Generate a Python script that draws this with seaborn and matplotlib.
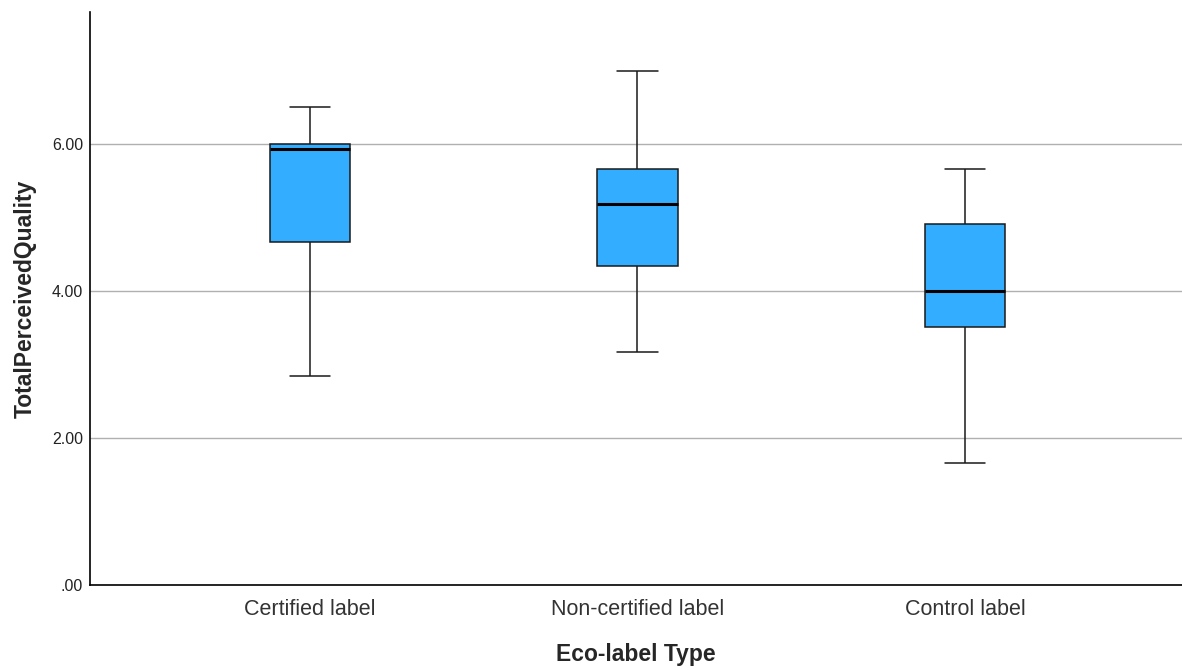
import matplotlib
matplotlib.use("Agg")
import matplotlib.pyplot as plt
import seaborn as sns
import pandas as pd
from matplotlib.ticker import FuncFormatter

categories = ["Certified label", "Non-certified label", "Control label"]
# five-number summaries: min, Q1, median, Q3, max
mins = [2.84, 3.17, 1.66]
q1s = [4.67, 4.34, 3.51]
medians = [5.93, 5.18, 4.00]
q3s = [6.00, 5.66, 4.91]
maxs = [6.50, 7.00, 5.66]

rows = []
for c, a, b, m, d, e in zip(categories, mins, q1s, medians, q3s, maxs):
    for v in (a, b, m, d, e):
        rows.append({"Eco-label Type": c, "TotalPerceivedQuality": v})
df = pd.DataFrame(rows)

sns.set_style("white")
plt.rcParams["font.family"] = ["Liberation Sans", "DejaVu Sans"]

fig = plt.figure(figsize=(11.82, 6.70), dpi=100)
ax = fig.add_axes([90 / 1182, 1 - 585 / 670, 1 - 90 / 1182, (585 - 12) / 670])

sns.boxplot(data=df, x="Eco-label Type", y="TotalPerceivedQuality", ax=ax,
            order=categories, whis=(0, 100), width=0.245, color="#33ADFF",
            saturation=1, linewidth=1.1, linecolor="#1a1a1a",
            medianprops={"color": "black", "linewidth": 2.2},
            showfliers=False, zorder=3)

ax.set_ylim(0, 7.8)
ax.set_xlim(-0.672, 2.663)
ax.set_yticks([0, 2, 4, 6])
ax.yaxis.set_major_formatter(FuncFormatter(lambda v, p: ".00" if v == 0 else f"{v:.2f}"))
ax.grid(axis="y", color="#b0b0b0", linewidth=1, zorder=0)
ax.set_axisbelow(True)
ax.tick_params(axis="y", labelsize=11.5, length=0, pad=5, labelcolor="#222222")
ax.tick_params(axis="x", labelsize=15.5, length=0, pad=10, labelcolor="#333333")

for s in ["top", "right"]:
    ax.spines[s].set_visible(False)
for s in ["left", "bottom"]:
    ax.spines[s].set_color("black")
    ax.spines[s].set_linewidth(1.2)

ax.set_xlabel("Eco-label Type", fontsize=16.5, fontweight="bold", labelpad=17)
ax.set_ylabel("TotalPerceivedQuality", fontsize=16.5, fontweight="bold", labelpad=11)

fig.savefig("out.png", dpi=100)
